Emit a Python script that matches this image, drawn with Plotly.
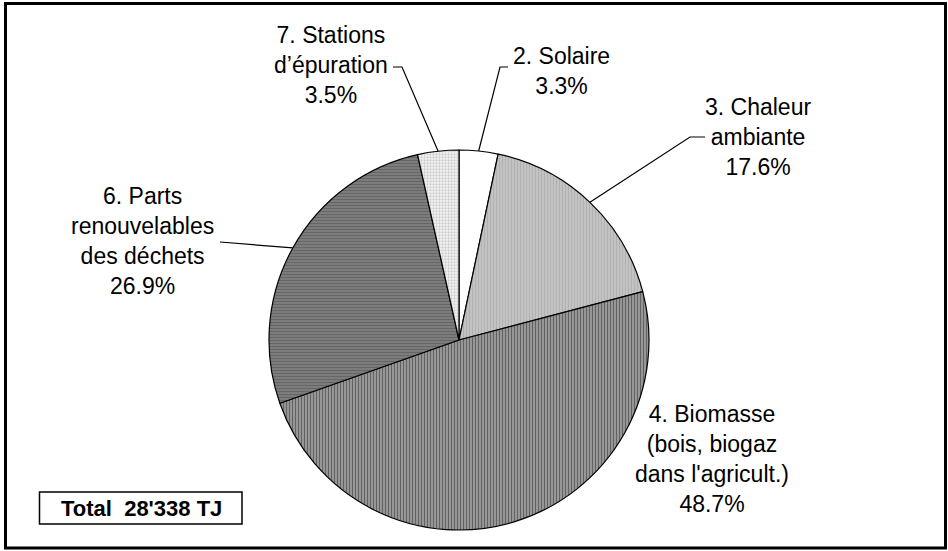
import math
import plotly.graph_objects as go

W, H = 948, 551

# data
labels = ["2. Solaire", "3. Chaleur<br>ambiante",
          "4. Biomasse<br>(bois, biogaz<br>dans l'agricult.)",
          "6. Parts<br>renouvelables<br>des déchets",
          "7. Stations<br>d’épuration"]
shares = [3.3, 17.6, 48.7, 26.9, 3.5]
total_text = "Total\u00a0\u00a028'338 TJ"

# styles
slice_bg = ["#ffffff", "#c6c6c6", "#a0a0a0", "#808080", "#f4f4f4"]
slice_fg = ["#ffffff", "#9c9c9c", "#262626", "#4c4c4c", "#a6a6a6"]
slice_shape = ["", "|", "|", "-", "."]
font_family = "Liberation Sans, Arial, sans-serif"

# pie geometry, pixels
cx, cy, r = 459, 340, 190

# label centres and leader start/knee, pixels
label_pos = [(561, 71), (758, 137), (712, 459), (142, 241), (331, 65)]
leader_knee = [((508, 67), (500, 67)), ((705, 137), (690, 137)), None,
               ((220, 242), (220, 242)), ((393, 67), (402, 67))]


def px(x):
    return x / W


def py(y):
    return 1 - y / H


fig = go.Figure()
fig.add_trace(go.Pie(
    labels=[l.replace("<br>", " ") for l in labels],
    values=shares,
    sort=False,
    direction="clockwise",
    rotation=0,
    textinfo="none",
    hoverinfo="label+percent",
    showlegend=False,
    domain=dict(x=[px(cx - r), px(cx + r)], y=[py(cy + r), py(cy - r)]),
    marker=dict(
        colors=slice_bg,
        line=dict(color="black", width=1.2),
        pattern=dict(shape=slice_shape, bgcolor=slice_bg, fgcolor=slice_fg,
                     size=3, solidity=0.45, fillmode="overlay"),
    ),
))

shapes = []
annotations = []
total = sum(shares)
cum = 0
for i, v in enumerate(shares):
    mid = (cum + v / 2) / total * 2 * math.pi
    cum += v
    ex = cx + r * math.sin(mid)
    ey = cy - r * math.cos(mid)
    lx, ly = label_pos[i]
    annotations.append(dict(
        x=px(lx), y=py(ly), xref="paper", yref="paper",
        text=labels[i] + "<br>%.1f%%" % v, showarrow=False,
        xanchor="center", yanchor="middle", align="center",
        font=dict(family=font_family, size=23, color="black"),
    ))
    if leader_knee[i]:
        (x0, y0), (x1, y1) = leader_knee[i]
        shapes.append(dict(
            type="path", xref="paper", yref="paper",
            path="M %f,%f L %f,%f L %f,%f" % (px(x0), py(y0), px(x1), py(y1),
                                               px(ex), py(ey)),
            line=dict(color="black", width=1.2),
        ))

# total box
shapes.append(dict(type="rect", xref="paper", yref="paper",
                   x0=px(39.5), x1=px(242), y0=py(524), y1=py(492),
                   line=dict(color="black", width=1.5), fillcolor="white"))
annotations.append(dict(
    x=px(141), y=py(508), xref="paper", yref="paper",
    text="<b>" + total_text + "</b>", showarrow=False,
    xanchor="center", yanchor="middle",
    font=dict(family=font_family, size=22, color="black"),
))

# outer frame
shapes.append(dict(type="rect", xref="paper", yref="paper",
                   x0=px(5.5), x1=px(945.5), y0=py(548), y1=py(3.5),
                   line=dict(color="black", width=3)))

fig.update_layout(
    width=W, height=H,
    margin=dict(l=0, r=0, t=0, b=0),
    paper_bgcolor="white",
    plot_bgcolor="white",
    shapes=shapes,
    annotations=annotations,
)

fig.write_html("out.html", config={"displayModeBar": False},
               post_script="document.body.style.margin='0';")
